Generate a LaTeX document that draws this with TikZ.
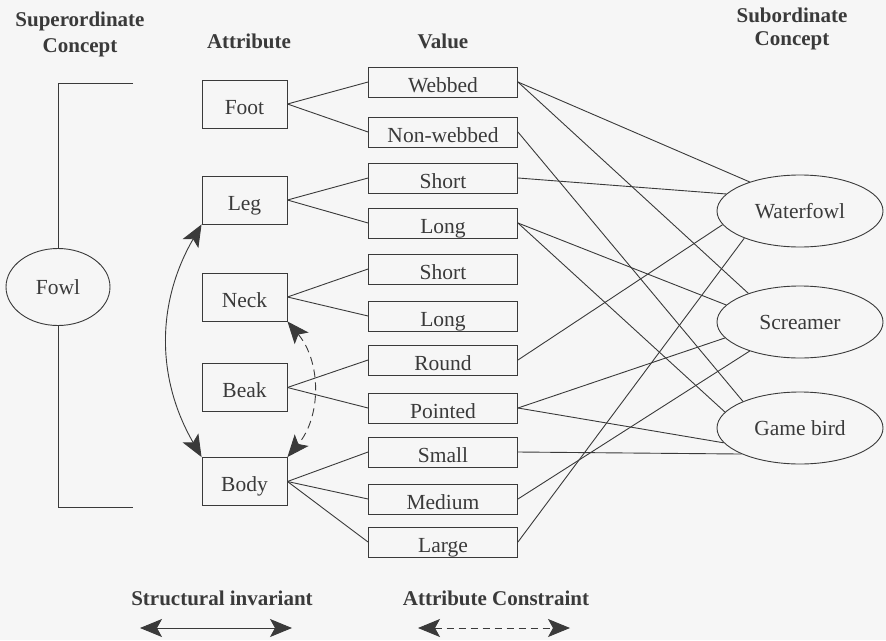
\documentclass[tikz,border=0pt]{standalone}
\usepackage{fontspec}
\setmainfont{Liberation Serif}
\usetikzlibrary{arrows.meta,shapes.geometric}
\definecolor{ink}{HTML}{3A3A3A}
\definecolor{bg}{HTML}{F6F6F6}
\begin{document}
\begin{tikzpicture}[x=1pt,y=-1pt,
  every node/.style={text=ink},
  base/.style={font=\fontsize{21.5}{26}\selectfont},
  hdr/.style={font=\fontsize{21}{26}\selectfont\bfseries, align=center, inner sep=0pt},
  attrbox/.style={base, draw=ink, line width=0.9pt, minimum width=85pt, minimum height=48pt, inner sep=0pt, text height=20pt, text depth=0pt},
  valbox/.style={base, draw=ink, line width=0.9pt, minimum width=149pt, minimum height=30pt, inner sep=0pt, text height=20pt, text depth=0pt},
  concept/.style={base, ellipse, draw=ink, line width=0.9pt, minimum width=166pt, minimum height=72pt, inner sep=0pt},
  link/.style={draw=ink, line width=0.9pt},
  bigtip/.style={arrows={Stealth[length=22pt,width=18pt,inset=5pt]-Stealth[length=22pt,width=18pt,inset=5pt]}},
  dashline/.style={dash pattern=on 8pt off 5pt}
]
\fill[bg] (0,0) rectangle (886,640);
\useasboundingbox (0,0) rectangle (886,640);

% headers
\node[hdr] (hsup) at (80,34) {Superordinate\\Concept};
\node[hdr] (hattr) at (249,41) {Attribute};
\node[hdr] (hval) at (443,41) {Value};
\node[hdr, font=\fontsize{21}{23}\selectfont\bfseries] (hsub) at (792,29) {Subordinate\\Concept};

% superordinate
\node[base, ellipse, draw=ink, line width=0.9pt, minimum width=104pt, minimum height=77pt, inner sep=0pt] (fowl) at (58,287) {Fowl};
\coordinate (bt) at (133,83);
\coordinate (btc) at (58,83);
\coordinate (bb) at (133,507);
\coordinate (bbc) at (58,507);
\draw[link] (bt) -- (btc) -- (fowl.north);
\draw[link] (fowl.south) -- (bbc) -- (bb);

% attributes
\node[attrbox] (foot) at (244.5,104) {Foot};
\node[attrbox] (leg)  at (244.5,200) {Leg};
\node[attrbox] (neck) at (244.5,297) {Neck};
\node[attrbox] (beak) at (244.5,387.5) {Beak};
\node[attrbox] (body) at (244.5,481.5) {Body};

% values
\node[valbox] (web)   at (443,82)  {Webbed};
\node[valbox] (nweb)  at (443,132) {Non-webbed};
\node[valbox] (lshort) at (443,178) {Short};
\node[valbox] (llong)  at (443,223) {Long};
\node[valbox] (nshort) at (443,269) {Short};
\node[valbox] (nlong)  at (443,316) {Long};
\node[valbox] (round)  at (443,360) {Round};
\node[valbox] (point)  at (443,408) {Pointed};
\node[valbox] (small)  at (443,452) {Small};
\node[valbox] (medium) at (443,499) {Medium};
\node[valbox] (large)  at (443,542) {Large};

% subordinate
\node[concept] (wf) at (800,211) {Waterfowl};
\node[concept] (sc) at (800,322) {Screamer};
\node[concept] (gb) at (800,428) {Game bird};

% attribute -> value
\draw[link] (foot.east) -- (web.west);
\draw[link] (foot.east) -- (nweb.west);
\draw[link] (leg.east) -- (lshort.west);
\draw[link] (leg.east) -- (llong.west);
\draw[link] (neck.east) -- (nshort.west);
\draw[link] (neck.east) -- (nlong.west);
\draw[link] (beak.east) -- (round.west);
\draw[link] (beak.east) -- (point.west);
\draw[link] (body.east) -- (small.west);
\draw[link] (body.east) -- (medium.west);
\draw[link] (body.east) -- (large.west);

% value -> subordinate
\draw[link] (web.east) -- (wf.150);
\draw[link] (web.east) -- (sc.151);
\draw[link] (nweb.east) -- (gb.155);
\draw[link] (lshort.east) -- (wf.167);
\draw[link] (llong.east) -- (sc.167);
\draw[link] (llong.east) -- (gb.168);
\draw[link] (round.east) -- (wf.190);
\draw[link] (point.east) -- (sc.192);
\draw[link] (point.east) -- (gb.191);
\draw[link] (small.east) -- (gb.204);
\draw[link] (medium.east) -- (sc.210);
\draw[link] (large.east) -- (wf.206);

% constraints
\draw[link, bigtip] (leg.south west) to[bend right=30] (body.north west);
\draw[link, bigtip, dashline] (neck.south east) to[bend left=40] (body.north east);

% legend
\node[hdr] (lsi) at (222,598) {Structural invariant};
\node[hdr] (lac) at (496,598) {Attribute Constraint};
\coordinate (s1) at (140,628);
\coordinate (s2) at (292,628);
\coordinate (d1) at (418,628);
\coordinate (d2) at (570,628);
\draw[link, bigtip] (s1) -- (s2);
\draw[link, bigtip, dash pattern=on 7pt off 5pt] (d1) -- (d2);
\end{tikzpicture}
\end{document}
